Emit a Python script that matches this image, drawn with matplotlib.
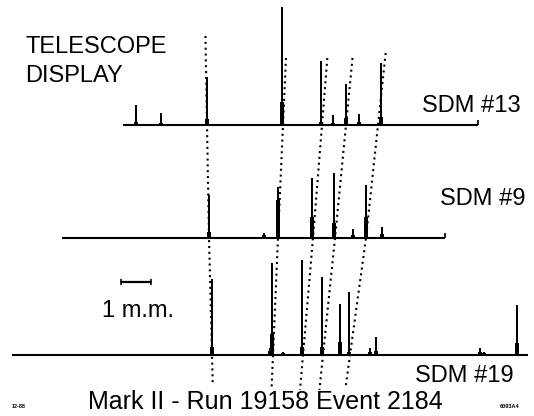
"""
Telescope display of three SDM chambers, Mark II run 19158 event 2184.
Recreated as a flat drawing in pixel-like units (1 m.m. = 30 units).
"""
import matplotlib
matplotlib.use("Agg")
import matplotlib.pyplot as plt

plt.rcParams["font.family"] = ["Liberation Sans", "DejaVu Sans"]

# ── data ─────────────────────────────────────────────────────────────
# pulse positions along the chamber, pulse heights and the wider
# "shoulder" at the foot of each pulse
sdm13_x = [136, 161, 207, 282, 321, 333, 346, 359, 381]
sdm13_h = [20, 12, 48, 118, 64, 10, 41, 11, 62]
sdm13_foot = [3, 2, 6, 23, 3, 2, 7, 3, 8]

sdm9_x = [209, 264, 278, 312, 334, 353, 366, 382]
sdm9_h = [43, 5, 51, 60, 65, 9, 53, 11]
sdm9_foot = [6, 3, 38, 21, 15, 3, 21, 4]

sdm19_x = [212, 270, 272, 283, 302, 322, 340, 349, 370, 376, 480, 484, 517]
sdm19_h = [76, 7, 92, 3, 95, 78, 51, 63, 7, 18, 7, 3, 50]
sdm19_foot = [8, 4, 21, 2, 8, 8, 13, 3, 3, 4, 3, 2, 12]

# fitted track positions where each track crosses the three chambers
track_sdm13 = [207, 283, 322, 346, 378]
track_sdm9 = [209, 278, 313, 335, 366]
track_sdm19 = [212, 273, 303, 323, 350]

labels = ["SDM #13", "SDM #9", "SDM #19"]

# ── layout (pixel units of the 534x416 scan) ─────────────────────────
BASE_Y = [125, 238, 355]
SPAN = [(123, 478), (62, 445), (12, 528)]
END_TICK = [True, True, False]
LABEL_POS = [(422, 112), (440, 205), (415, 382)]
TRACK_TOP = [36, 58, 58, 58, 53]
TRACK_BOT = [383, 390, 390, 390, 385]

fig = plt.figure(figsize=(5.34, 4.16), dpi=100)
ax = fig.add_axes([0, 0, 1, 1])
ax.set_xlim(0, 534)
ax.set_ylim(416, 0)
ax.axis("off")

traces = [(sdm13_x, sdm13_h, sdm13_foot),
          (sdm9_x, sdm9_h, sdm9_foot),
          (sdm19_x, sdm19_h, sdm19_foot)]

for (xs, hs, feet), y0, (x0, x1), tick, lab, lpos in zip(
        traces, BASE_Y, SPAN, END_TICK, labels, LABEL_POS):
    ax.hlines(y0, x0, x1, color="black", lw=1.5)
    if tick:
        ax.vlines(x1, y0 - 5, y0, color="black", lw=1.2)
    # thin spikes
    ax.bar(xs, [-h for h in hs], bottom=y0, width=2.5, color="black",
           linewidth=0)
    # thicker foot of each pulse
    ax.bar(xs, [-f for f in feet], bottom=y0, width=4.5, color="black",
           linewidth=0)
    ax.text(lpos[0], lpos[1], lab, fontsize=17, va="baseline", ha="left")

# dotted track lines through the three chambers
for i in range(len(track_sdm13)):
    xa, xb, xc = track_sdm13[i], track_sdm9[i], track_sdm19[i]
    ya, yb, yc = BASE_Y
    # extend beyond the outer chambers along the local slope
    x_top = xa + (xa - xb) / (yb - ya) * (ya - TRACK_TOP[i])
    x_bot = xc + (xc - xb) / (yc - yb) * (TRACK_BOT[i] - yc)
    ax.plot([x_top, xa, xb, xc, x_bot],
            [TRACK_TOP[i], ya, yb, yc, TRACK_BOT[i]],
            color="black", lw=1.5, linestyle=(0, (1, 1.8)))

# scale bar
ax.hlines(282, 121, 151, color="black", lw=1.6)
ax.vlines([121, 151], 279, 285, color="black", lw=1.2)
ax.text(102, 317, "1 m.m.", fontsize=17, va="baseline")

ax.text(25, 53, "TELESCOPE", fontsize=17, va="baseline")
ax.text(25, 82, "DISPLAY", fontsize=17, va="baseline")
ax.text(88, 409, "Mark II - Run 19158 Event 2184", fontsize=18,
        va="baseline")
ax.text(12, 408, "12-88", fontsize=4, fontweight="bold", va="baseline")
ax.text(500, 408, "6093A4", fontsize=4, fontweight="bold", va="baseline")

fig.savefig("out.png", dpi=100)
